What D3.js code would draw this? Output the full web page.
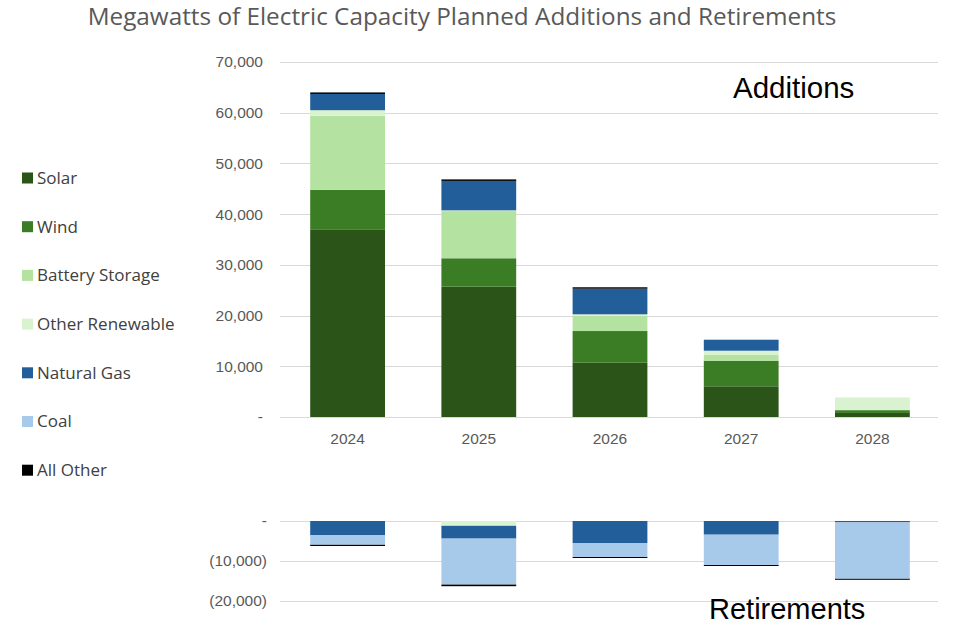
<!DOCTYPE html>
<html>
<head>
<meta charset="utf-8">
<script src="https://cdn.jsdelivr.net/npm/d3@7"></script>
<style>
  body { margin: 0; background: #fff; }
  svg { display: block; }
  .tick-label { font-family: "Liberation Sans", Arial, sans-serif; font-size: 15.5px; fill: #595959; }
  .legend-label { font-family: "Open Sans", sans-serif; font-size: 17px; fill: #404040; }
</style>
</head>
<body>
<svg id="chart" width="965" height="632"></svg>
<script>
// Data (MW)
const years = ["2024", "2025", "2026", "2027", "2028"];
const seriesNames = ["Solar", "Wind", "Battery Storage", "Other Renewable", "Natural Gas", "Coal", "All Other"];
const seriesColors = ["#2b5419", "#3b7d24", "#b4e2a1", "#d9f2cf", "#215e9a", "#a7caeb", "#000000"];

// Planned additions
const addSolar    = [36900, 25700, 10700, 6050, 800];
const addWind     = [7900, 5600, 6250, 5050, 550];
const addBattery  = [14600, 9300, 3000, 1120, 0];
const addOtherRen = [1100, 150, 300, 850, 2500];
const addGas      = [3200, 5800, 5050, 2170, 0];
const addCoal     = [0, 0, 0, 0, 0];
const addAllOther = [300, 300, 280, 0, 0];

// Planned retirements (negative)
const retSolar    = [0, 0, 0, 0, 0];
const retWind     = [0, 0, 0, 0, 0];
const retBattery  = [0, 0, 0, 0, 0];
const retOtherRen = [0, -1200, 0, 0, 0];
const retGas      = [-3500, -3200, -5500, -3420, -350];
const retCoal     = [-2450, -11500, -3500, -7580, -14100];
const retAllOther = [-300, -400, -250, -250, -250];

const addTicks = [0, 10000, 20000, 30000, 40000, 50000, 60000, 70000];
const retTicks = [0, -10000, -20000];

function buildTable(cols) {
  return years.map((yr, i) => {
    const row = { year: yr };
    seriesNames.forEach((s, k) => { row[s] = cols[k][i]; });
    return row;
  });
}

const addTable = buildTable([addSolar, addWind, addBattery, addOtherRen, addGas, addCoal, addAllOther]);
const retTable = buildTable([retSolar, retWind, retBattery, retOtherRen, retGas, retCoal, retAllOther]);

const svg = d3.select("#chart");
const color = d3.scaleOrdinal().domain(seriesNames).range(seriesColors);

const plotLeft = 280, plotRight = 938;
// bars sit a touch right of the gridline span, as in the reference
const x = d3.scaleBand().domain(years).range([plotLeft + 2, plotRight]).paddingInner(0.43).paddingOuter(0.215);

const fmt = d3.format(",");

// Title
svg.append("text")
  .attr("x", 462).attr("y", 25)
  .attr("text-anchor", "middle")
  .attr("font-family", "'Open Sans', sans-serif")
  .attr("font-size", "24.3px")
  .attr("fill", "#595959")
  .text("Megawatts of Electric Capacity Planned Additions and Retirements");

function drawPanel(table, yScale, ticks, labelX, tickFmt) {
  const g = svg.append("g");

  // gridlines
  g.selectAll("line.grid").data(ticks).join("line")
    .attr("class", "grid")
    .attr("x1", plotLeft).attr("x2", plotRight)
    .attr("y1", d => Math.round(yScale(d)) + 0.5)
    .attr("y2", d => Math.round(yScale(d)) + 0.5)
    .attr("stroke", "#d9d9d9").attr("stroke-width", 1);

  // tick labels
  g.selectAll("text.ytick").data(ticks).join("text")
    .attr("class", "tick-label ytick")
    .attr("x", labelX)
    .attr("y", d => yScale(d))
    .attr("dy", "0.35em")
    .attr("text-anchor", "end")
    .text(tickFmt);

  const stacked = d3.stack().keys(seriesNames).offset(d3.stackOffsetDiverging)(table);

  g.selectAll("g.layer").data(stacked).join("g")
    .attr("class", "layer")
    .attr("fill", d => color(d.key))
    .selectAll("rect").data(d => d).join("rect")
      .attr("x", d => x(d.data.year))
      .attr("width", x.bandwidth())
      .attr("y", d => yScale(Math.max(d[0], d[1])))
      .attr("height", d => Math.abs(yScale(d[0]) - yScale(d[1])));
  return g;
}

// Additions panel
const yAdd = d3.scaleLinear().domain([0, 70000]).range([417, 62]);
drawPanel(addTable, yAdd, addTicks, 263, d => d === 0 ? "-" : fmt(d));

// year labels
svg.append("g").selectAll("text").data(years).join("text")
  .attr("class", "tick-label")
  .attr("x", d => x(d) + x.bandwidth() / 2)
  .attr("y", 444)
  .attr("text-anchor", "middle")
  .text(d => d);

// Retirements panel
const yRet = d3.scaleLinear().domain([-20000, 0]).range([601, 521]);
drawPanel(retTable, yRet, retTicks, 267, d => d === 0 ? "-" : "(" + fmt(-d) + ")");

// Panel captions
svg.append("text")
  .attr("x", 733).attr("y", 98)
  .attr("font-family", "'Liberation Sans', Arial, sans-serif")
  .attr("font-size", "29.5px")
  .attr("fill", "#000")
  .text("Additions");

svg.append("text")
  .attr("x", 709).attr("y", 619)
  .attr("font-family", "'Liberation Sans', Arial, sans-serif")
  .attr("font-size", "29px")
  .attr("fill", "#000")
  .text("Retirements");

// Legend
const legend = svg.append("g").selectAll("g").data(seriesNames).join("g")
  .attr("transform", (d, i) => `translate(22, ${178 + i * 48.7})`);
legend.append("rect")
  .attr("x", 0).attr("y", -5.5)
  .attr("width", 11).attr("height", 11)
  .attr("fill", d => color(d));
legend.append("text")
  .attr("class", "legend-label")
  .attr("x", 15).attr("y", 0)
  .attr("dy", "0.35em")
  .text(d => d);
</script>
</body>
</html>
